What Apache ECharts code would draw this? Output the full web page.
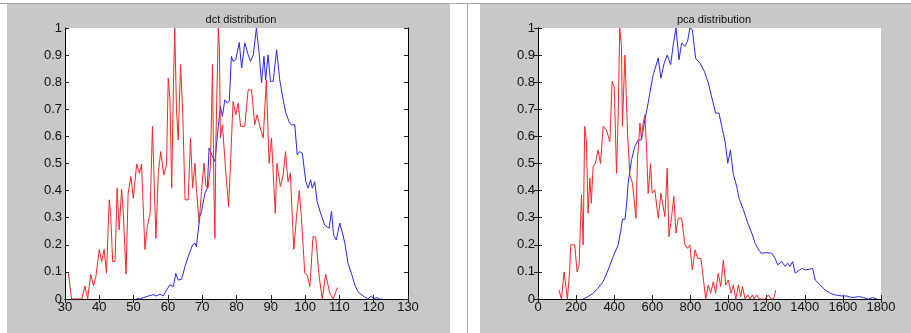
<!DOCTYPE html>
<html><head><meta charset="utf-8">
<script src="https://cdn.jsdelivr.net/npm/echarts@6/dist/echarts.min.js"></script>
<style>html,body{margin:0;padding:0;background:#fff}#c{width:911px;height:333px}</style>
</head><body><div id="c"></div>
<script>
const titles = ['dct distribution', 'pca distribution'];
const dctRange = [30, 130, 10];
const pcaRange = [0, 1800, 200];

const dctRedX = [31.0,31.9,32.9,34.9,35.8,36.6,37.5,38.3,39.0,40.0,40.7,41.4,42.1,42.9,43.3,43.9,44.6,45.2,45.8,46.5,47.0,47.8,48.4,49.2,49.9,50.9,51.7,52.3,53.3,54.0,54.8,55.5,56.5,57.2,57.9,58.8,59.6,60.1,60.6,61.1,61.6,62.0,62.5,63.0,63.7,64.3,65.0,65.9,66.6,67.2,67.9,68.3,69.1,69.8,70.5,71.1,71.7,72.4,73.0,73.4,73.7,74.0,74.7,75.0,75.3,75.9,76.9,77.7,78.3,79.0,79.8,80.5,81.2,82.4,83.4,84.4,85.3,86.0,86.8,87.8,88.7,89.5,90.2,91.3,91.8,92.8,93.6,94.3,95.0,95.7,96.7,97.5,98.3,98.9,99.9,100.6,101.4,102.3,103.1,104.1,105.0,106.0,107.2,108.2,109.4];
const dctRedY = [0.095,0,0,0,0.048,0,0.091,0.048,0.083,0.183,0.138,0.183,0.095,0.366,0.316,0.138,0.138,0.409,0.255,0.405,0.316,0.092,0.39,0.452,0.372,0.498,0.464,0.498,0.183,0.267,0.316,0.637,0.224,0.464,0.544,0.458,0.495,0.815,0.735,0.409,0.778,1.0,0.698,0.587,0.865,0.698,0.366,0.366,0.594,0.409,0.501,0.409,0.28,0.397,0.501,0.415,0.409,0.489,0.865,0.415,0.224,0.587,1.0,0.932,0.594,0.643,0.464,0.341,0.514,0.729,0.68,0.723,0.637,0.637,0.772,0.772,0.643,0.68,0.637,0.594,0.809,0.501,0.594,0.316,0.501,0.415,0.458,0.544,0.433,0.464,0.183,0.304,0.4,0.304,0.095,0.089,0.046,0.23,0.228,0.083,0,0.092,0.021,0,0.042];

const dctBlueX = [50.9,51.8,52.8,54.3,55.7,56.7,57.7,58.6,59.6,60.6,61.6,62.3,63.0,64.0,65.0,65.9,67.2,67.9,68.3,69.3,69.8,70.8,71.5,72.0,73.0,73.7,74.7,75.3,75.9,76.6,77.3,77.9,78.5,79.0,79.8,80.8,81.5,82.4,83.4,84.1,84.9,85.8,86.6,87.3,88.0,88.5,89.2,89.9,90.7,91.7,92.6,93.1,93.6,94.4,95.3,96.0,97.0,97.7,98.4,99.2,100.2,100.9,101.6,102.1,102.8,103.5,104.5,105.7,107.0,107.7,108.3,109.1,110.1,110.9,111.6,112.5,113.5,114.5,115.4,116.9,118.3,119.3,120.0,121.0,121.7,122.5];
const dctBlueY = [0.002,0,0.005,0.011,0.016,0.011,0.018,0.011,0.033,0.052,0.046,0.095,0.07,0.073,0.12,0.156,0.2,0.206,0.193,0.304,0.323,0.39,0.41,0.557,0.526,0.507,0.637,0.711,0.674,0.735,0.723,0.729,0.895,0.877,0.883,0.947,0.852,0.945,0.901,0.877,0.901,1.0,0.908,0.797,0.895,0.809,0.901,0.803,0.803,0.92,0.809,0.803,0.735,0.686,0.655,0.643,0.643,0.532,0.544,0.538,0.433,0.409,0.44,0.409,0.433,0.36,0.317,0.273,0.261,0.323,0.236,0.218,0.28,0.243,0.206,0.132,0.095,0.052,0.027,0.011,0,0.011,0.002,0.005,0,0];

const pcaRedX = [110,123,137,154,166,172,193,205,216,228,237,245,254,263,272,280,289,301,315,328,342,359,377,389,400,412,421,429,438,443,456,470,482,496,514,522,535,543,552,561,570,578,591,599,613,631,645,666,678,687,701,713,724,736,754,771,785,797,810,824,838,855,880,894,906,920,932,946,959,973,985,999,1013,1025,1038,1052,1064,1073,1087,1101,1113,1125,1136,1148,1160,1192,1209,1223,1236,1248];
const pcaRedY = [0.033,0,0.1,0,0.1,0.2,0.2,0.1,0.125,0.384,0.2,0.637,0.58,0.316,0.446,0.353,0.489,0.5,0.55,0.5,0.637,0.624,0.58,0.803,0.784,0.464,0.686,1.0,0.932,0.637,0.9,0.612,0.458,0.427,0.298,0.514,0.649,0.587,0.649,0.68,0.55,0.39,0.5,0.39,0.403,0.298,0.39,0.304,0.483,0.23,0.304,0.378,0.243,0.298,0.298,0.2,0.187,0.2,0.107,0.181,0.15,0.15,0,0.052,0.021,0.064,0.021,0.095,0.046,0.144,0.052,0.07,0.021,0.052,0,0.052,0.009,0.046,0,0.015,0,0.015,0,0.015,0,0,0.015,0,0,0.033];

const pcaBlueX = [237,263,289,315,342,368,394,421,435,443,456,464,473,491,508,526,543,561,578,596,605,613,631,645,662,678,696,710,724,740,754,771,785,797,810,827,850,873,894,915,932,950,964,982,996,1010,1024,1034,1045,1055,1078,1101,1122,1139,1153,1171,1201,1227,1244,1258,1279,1297,1311,1323,1336,1350,1371,1388,1402,1423,1441,1455,1481,1507,1534,1560,1595,1621,1648,1683,1709,1735,1756,1779];
const pcaBlueY = [0,0.009,0.021,0.04,0.064,0.107,0.156,0.2,0.255,0.294,0.294,0.341,0.427,0.514,0.563,0.587,0.587,0.661,0.723,0.797,0.828,0.828,0.889,0.815,0.87,0.9,0.865,0.938,1.0,0.883,0.945,0.932,0.951,1.0,0.994,0.889,0.87,0.84,0.797,0.735,0.686,0.686,0.637,0.58,0.501,0.55,0.464,0.464,0.409,0.372,0.329,0.28,0.243,0.206,0.187,0.169,0.171,0.169,0.15,0.126,0.138,0.12,0.132,0.12,0.138,0.095,0.107,0.113,0.107,0.11,0.113,0.07,0.052,0.033,0.021,0.015,0.011,0.011,0.005,0.009,0.005,0,0.005,0];

const RED = '#f02828', BLUE = '#2828f0';
const FONT = "'Liberation Sans Narrow','Liberation Sans',Arial,sans-serif";
const pair = (xs, ys) => xs.map((x, i) => [x, ys[i]]);

const grids = [
  {left: 65, top: 28, width: 343, height: 271, backgroundColor: '#fff', show: true, borderWidth: 0},
  {left: 538, top: 28, width: 343, height: 271, backgroundColor: '#fff', show: true, borderWidth: 0}
];
const ranges = [dctRange, pcaRange];
const axLine = {show: true, lineStyle: {color: '#000', width: 1}};
const tick = {show: true, inside: true, length: 4, lineStyle: {color: '#222'}};
const xAxes = [], yAxes = [];
ranges.forEach((r, g) => {
  xAxes.push({type: 'value', gridIndex: g, position: 'bottom', min: r[0], max: r[1], interval: r[2],
    axisLine: axLine, axisTick: tick, splitLine: {show: false},
    axisLabel: {color: '#111', fontFamily: FONT, fontSize: 13, margin: 2, showMinLabel: true, showMaxLabel: true,
      formatter: v => String(v)}});
  xAxes.push({type: 'value', gridIndex: g, position: 'top', min: r[0], max: r[1], interval: r[2],
    axisLine: axLine, axisTick: tick, splitLine: {show: false}, axisLabel: {show: false}});
  yAxes.push({type: 'value', gridIndex: g, position: 'left', min: 0, max: 1, interval: 0.1,
    axisLine: axLine, axisTick: tick, splitLine: {show: false},
    axisLabel: {color: '#111', fontFamily: FONT, fontSize: 13, margin: 3, formatter: v => String(+v.toFixed(1))}});
  yAxes.push({type: 'value', gridIndex: g, position: 'right', min: 0, max: 1, interval: 0.1,
    axisLine: axLine, axisTick: tick, splitLine: {show: false}, axisLabel: {show: false}});
});
const mk = (data, color, xi, yi) => ({type: 'line', xAxisIndex: xi, yAxisIndex: yi, data, showSymbol: false,
  symbol: 'none', animation: false, lineStyle: {color, width: 1}, itemStyle: {color}});

const chart = echarts.init(document.getElementById('c'), null, {renderer: 'canvas'});
chart.setOption({
  backgroundColor: '#ffffff',
  animation: false,
  graphic: [
    {type: 'rect', shape: {x: 7, y: 4, width: 443, height: 330}, style: {fill: '#c8c8c8'}, z: -10},
    {type: 'rect', shape: {x: 480, y: 4, width: 431, height: 330}, style: {fill: '#c8c8c8'}, z: -10},
    {type: 'line', shape: {x1: 0, y1: 3.5, x2: 911, y2: 3.5}, style: {stroke: '#a8a8a8', lineWidth: 1}, z: -5},
    {type: 'line', shape: {x1: 467.5, y1: 4, x2: 467.5, y2: 333}, style: {stroke: '#a8a8a8', lineWidth: 1}, z: -5}
  ],
  title: [
    {text: titles[0], left: 236, top: 9, textAlign: 'center', textStyle: {fontFamily: FONT, fontSize: 11, fontWeight: 'normal', color: '#111'}},
    {text: titles[1], left: 709, top: 9, textAlign: 'center', textStyle: {fontFamily: FONT, fontSize: 11, fontWeight: 'normal', color: '#111'}}
  ],
  grid: grids,
  xAxis: xAxes,
  yAxis: yAxes,
  series: [
    mk(pair(dctBlueX, dctBlueY), BLUE, 0, 0),
    mk(pair(dctRedX, dctRedY), RED, 0, 0),
    mk(pair(pcaBlueX, pcaBlueY), BLUE, 2, 2),
    mk(pair(pcaRedX, pcaRedY), RED, 2, 2)
  ]
});
</script></body></html>
